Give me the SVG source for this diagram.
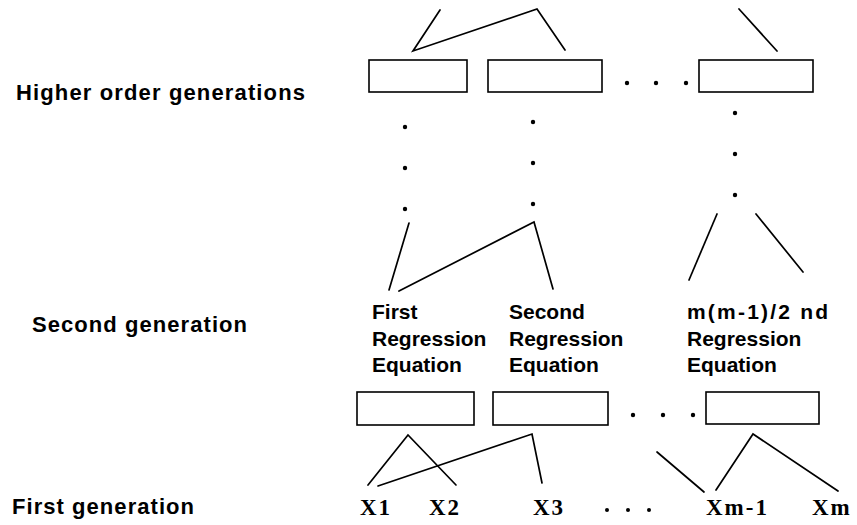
<svg xmlns="http://www.w3.org/2000/svg" width="857" height="525" viewBox="0 0 857 525">
  <style>
    .box { fill: #fff; stroke: #000; stroke-width: 1.6; }
    .link { fill: none; stroke: #000; stroke-width: 1.7; stroke-linecap: round; stroke-linejoin: miter; }
    .dot { fill: #000; }
    .lvl { font-family: "Liberation Sans", Arial, sans-serif; font-weight: bold; font-size: 22px; fill: #000; }
    .eq { font-family: "Liberation Sans", Arial, sans-serif; font-weight: bold; font-size: 21px; fill: #000; }
    .var { font-family: "Liberation Serif", "Times New Roman", serif; font-weight: bold; font-size: 23px; fill: #000; letter-spacing: 2px; }
  </style>
  <rect width="857" height="525" fill="#fff"/>

  <!-- generation labels -->
  <g id="label-higher"><text class="lvl" x="16" y="100" textLength="289" lengthAdjust="spacing">Higher order generations</text></g>
  <g id="label-second"><text class="lvl" x="32" y="332" textLength="215" lengthAdjust="spacing">Second generation</text></g>
  <g id="label-first"><text class="lvl" x="12" y="514" textLength="182" lengthAdjust="spacing">First generation</text></g>

  <!-- higher order generation nodes -->
  <g id="higher-1"><rect class="box" x="369" y="60" width="98" height="32"/></g>
  <g id="higher-2"><rect class="box" x="488" y="60" width="114" height="32"/></g>
  <g id="higher-n"><rect class="box" x="699" y="60" width="114" height="32"/></g>
  <g id="higher-ellipsis">
    <circle class="dot" cx="627" cy="83" r="2.2"/>
    <circle class="dot" cx="656" cy="83" r="2.2"/>
    <circle class="dot" cx="686" cy="83" r="2.2"/>
  </g>

  <!-- vertical ellipses between generations -->
  <g id="gap-ellipsis">
    <circle class="dot" cx="405" cy="127" r="2.2"/>
    <circle class="dot" cx="405" cy="168" r="2.2"/>
    <circle class="dot" cx="405" cy="209" r="2.2"/>
    <circle class="dot" cx="533" cy="122" r="2.2"/>
    <circle class="dot" cx="533" cy="163" r="2.2"/>
    <circle class="dot" cx="533" cy="204" r="2.2"/>
    <circle class="dot" cx="735" cy="113" r="2.2"/>
    <circle class="dot" cx="735" cy="154" r="2.2"/>
    <circle class="dot" cx="735" cy="195" r="2.2"/>
  </g>

  <!-- second generation nodes -->
  <g id="eq-1">
    <text class="eq" x="372" y="319">First</text>
    <text class="eq" x="372" y="346">Regression</text>
    <text class="eq" x="372" y="372">Equation</text>
    <rect class="box" x="357" y="392" width="117" height="33"/>
  </g>
  <g id="eq-2">
    <text class="eq" x="509" y="319">Second</text>
    <text class="eq" x="509" y="346">Regression</text>
    <text class="eq" x="509" y="372">Equation</text>
    <rect class="box" x="493" y="392" width="115" height="33"/>
  </g>
  <g id="eq-n">
    <text class="eq" x="687" y="319" letter-spacing="2.2">m(m-1)/2 nd</text>
    <text class="eq" x="687" y="346">Regression</text>
    <text class="eq" x="687" y="372">Equation</text>
    <rect class="box" x="706" y="392" width="113" height="32"/>
  </g>
  <g id="eq-ellipsis">
    <circle class="dot" cx="633" cy="415" r="2.2"/>
    <circle class="dot" cx="663" cy="415" r="2.2"/>
    <circle class="dot" cx="693" cy="415" r="2.2"/>
  </g>

  <!-- first generation inputs -->
  <g id="x1"><text class="var" x="360" y="515">X1</text></g>
  <g id="x2"><text class="var" x="429" y="515">X2</text></g>
  <g id="x3"><text class="var" x="533" y="515">X3</text></g>
  <g id="x-ellipsis">
    <circle class="dot" cx="607" cy="510" r="2"/>
    <circle class="dot" cx="628" cy="510" r="2"/>
    <circle class="dot" cx="649" cy="510" r="2"/>
  </g>
  <g id="xm-1"><text class="var" x="706" y="515">Xm-1</text></g>
  <g id="xm"><text class="var" x="812" y="515">Xm</text></g>

  <!-- connectors -->
  <g id="connectors">
    <!-- into higher order nodes -->
    <polyline class="link" points="440,10 413,51 537,9 565,50"/>
    <line class="link" x1="739" y1="9" x2="777" y2="51"/>
    <!-- into second generation equations -->
    <line class="link" x1="409" y1="223" x2="389" y2="290"/>
    <polyline class="link" points="399,291 534,222 553,289"/>
    <line class="link" x1="717" y1="214" x2="689" y2="280"/>
    <line class="link" x1="756" y1="214" x2="803" y2="272"/>
    <!-- from first generation inputs -->
    <polyline class="link" points="368,485 408,435 456,485"/>
    <polyline class="link" points="378,486 532,434 542,483"/>
    <line class="link" x1="657" y1="452" x2="704" y2="492"/>
    <polyline class="link" points="716,490 753,434 838,491"/>
  </g>
</svg>
